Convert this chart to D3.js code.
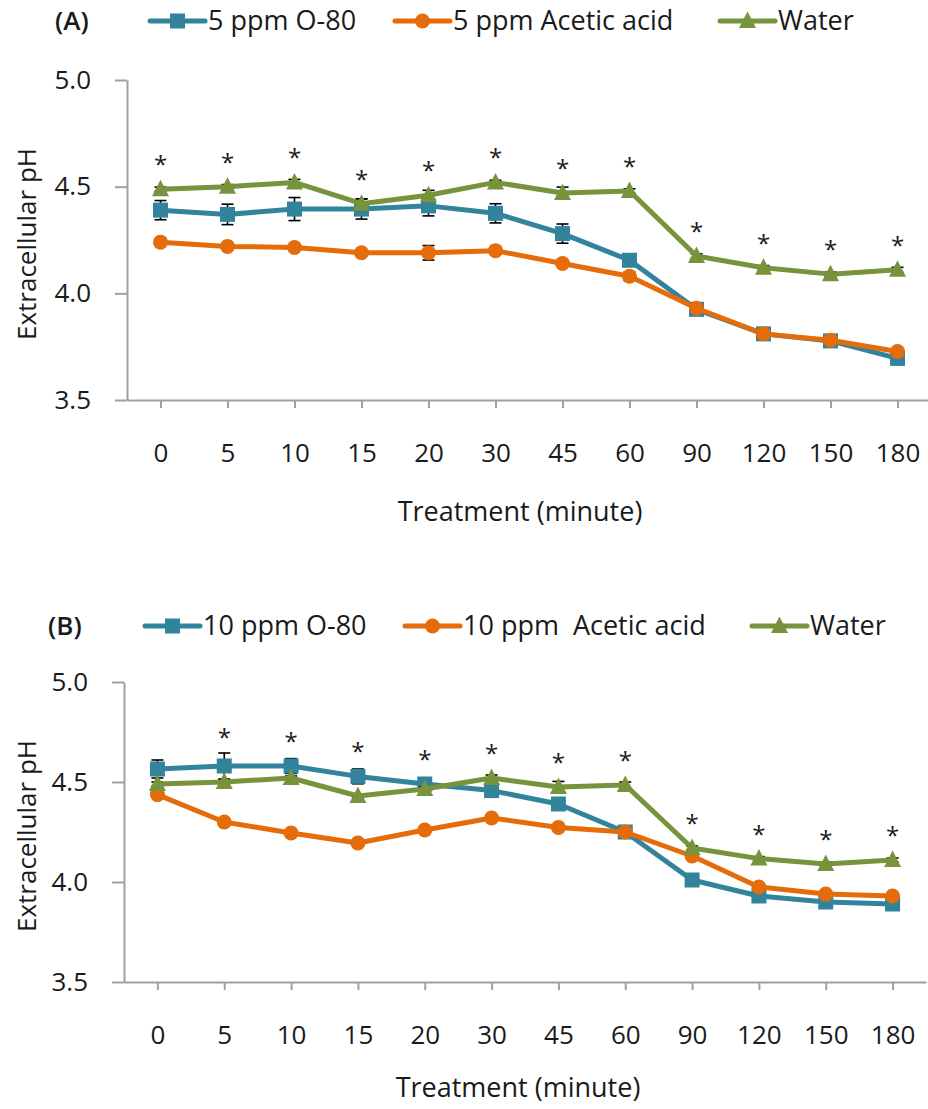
<!DOCTYPE html>
<html lang="en">
<head>
    <meta charset="UTF-8">
    <title>Extracellular pH</title>
    <script src="https://d3js.org/d3.v7.min.js"></script>
    <style>
        body, html {
            margin: 0;
            padding: 0;
            background: #fff;
        }
        svg text {
            font-family: "Open Sans", "Noto Sans", sans-serif;
            fill: #1a1a1a;
            white-space: pre;
        }
    </style>
</head>
<body>
    <script>
        // Categories (minutes)
        const categories = ["0", "5", "10", "15", "20", "30", "45", "60", "90", "120", "150", "180"];

        // Panel A values
        const o80A       = [4.39, 4.37, 4.395, 4.395, 4.41, 4.375, 4.28, 4.155, 3.925, 3.81, 3.777, 3.695];
        const o80AErr    = [0.045, 0.048, 0.054, 0.047, 0.047, 0.045, 0.045, 0.02, 0.01, 0.01, 0.01, 0.01];
        const aceticA    = [4.24, 4.22, 4.215, 4.19, 4.19, 4.2, 4.14, 4.08, 3.93, 3.81, 3.78, 3.727];
        const aceticAErr = [0.01, 0.01, 0.01, 0.01, 0.034, 0.01, 0.01, 0.02, 0.01, 0.01, 0.01, 0.01];
        const waterA     = [4.488, 4.5, 4.52, 4.42, 4.46, 4.52, 4.47, 4.48, 4.175, 4.12, 4.09, 4.11];
        const waterAErr  = [0.01, 0.01, 0.014, 0.023, 0.023, 0.01, 0.028, 0.01, 0.01, 0.01, 0.01, 0.012];
        const starsA     = [1, 1, 1, 1, 1, 1, 1, 1, 1, 1, 1, 1];

        // Panel B values
        const o80B       = [4.565, 4.58, 4.58, 4.528, 4.49, 4.457, 4.39, 4.25, 4.01, 3.93, 3.9, 3.89];
        const o80BErr    = [0.045, 0.065, 0.037, 0.037, 0.015, 0.01, 0.01, 0.01, 0.01, 0.01, 0.01, 0.01];
        const aceticB    = [4.437, 4.3, 4.245, 4.195, 4.26, 4.32, 4.273, 4.25, 4.13, 3.975, 3.94, 3.93];
        const aceticBErr = [0.01, 0.01, 0.01, 0.01, 0.01, 0.01, 0.01, 0.01, 0.01, 0.01, 0.01, 0.01];
        const waterB     = [4.49, 4.5, 4.52, 4.43, 4.465, 4.52, 4.475, 4.485, 4.17, 4.117, 4.09, 4.11];
        const waterBErr  = [0.01, 0.01, 0.01, 0.01, 0.01, 0.015, 0.028, 0.015, 0.01, 0.01, 0.01, 0.01];
        const starsB     = [0, 1, 1, 1, 1, 1, 1, 1, 1, 1, 1, 1];

        // Axis ticks
        const yTicks = [3.5, 4.0, 4.5, 5.0];

        const colors = { o80: "#31849b", acetic: "#e46c0a", water: "#77933c" };

        const width = 928, height = 1109;
        const svg = d3.select("body").append("svg")
            .attr("width", width)
            .attr("height", height);

        // marker shapes
        function drawMarker(g, shape, color) {
            if (shape === "square") {
                g.append("rect").attr("x", -7.5).attr("y", -7.5).attr("width", 15).attr("height", 15).attr("fill", color);
            } else if (shape === "circle") {
                g.append("circle").attr("r", 7.5).attr("fill", color);
            } else {
                g.append("path").attr("d", "M0,-9.5L8.5,7L-8.5,7Z").attr("fill", color);
            }
        }

        function drawPanel(p) {
            const x = d3.scalePoint().domain(categories).range([p.left, p.right]).padding(0.5);
            const y = d3.scaleLinear().domain([3.5, 5.0]).range([p.bottom, p.top]);
            const g = svg.append("g");

            // panel label
            g.append("text").attr("x", p.labelX).attr("y", p.legendY).attr("dy", "0.35em")
                .attr("font-size", 26).attr("font-weight", 600).text(p.label);

            // legend
            p.series.forEach((s, i) => {
                const lx = p.legendX[i];
                const lg = g.append("g").attr("transform", `translate(${lx},${p.legendY})`);
                lg.append("line").attr("x1", 0).attr("x2", 55).attr("stroke", s.color)
                    .attr("stroke-width", 5).attr("stroke-linecap", "round");
                const mg = lg.append("g").attr("transform", "translate(27.5,0)");
                drawMarker(mg, s.shape, s.color);
                lg.append("text").attr("x", 58).attr("dy", "0.35em").attr("font-size", 27).text(s.name);
            });

            // y axis
            const yAxis = g.append("g").attr("transform", `translate(${p.left},0)`)
                .call(d3.axisLeft(y).tickValues(yTicks).tickFormat(d3.format(".1f"))
                    .tickSize(12).tickSizeOuter(0).tickPadding(24));
            yAxis.select(".domain").attr("stroke", "#a0a0a0").attr("stroke-width", 2);
            yAxis.selectAll(".tick line").attr("stroke", "#a0a0a0").attr("stroke-width", 2);
            yAxis.selectAll(".tick text").attr("font-size", 26).attr("fill", "#1a1a1a")
                .attr("font-family", "Open Sans, sans-serif");

            // x axis
            const xAxis = g.append("g").attr("transform", `translate(0,${p.bottom})`)
                .call(d3.axisBottom(x).tickSize(8).tickSizeOuter(0).tickPadding(36));
            xAxis.select(".domain").attr("stroke", "#a0a0a0").attr("stroke-width", 2);
            xAxis.selectAll(".tick line").attr("stroke", "#a0a0a0").attr("stroke-width", 2);
            xAxis.selectAll(".tick text").attr("font-size", 26).attr("fill", "#1a1a1a")
                .attr("font-family", "Open Sans, sans-serif");

            // axis titles
            g.append("text").attr("x", p.xTitleX).attr("y", p.xTitleY).attr("dy", "0.35em")
                .attr("text-anchor", "middle").attr("font-size", 27).text("Treatment (minute)");
            g.append("text")
                .attr("transform", `translate(27,${(p.top + p.bottom) / 2 + 4}) rotate(-90)`)
                .attr("dy", "0.35em").attr("text-anchor", "middle").attr("font-size", 26)
                .text("Extracellular pH");

            // series
            p.series.forEach(s => {
                const pts = categories.map((c, i) => ({ c: c, v: s.values[i], e: s.errors[i] }));
                const eb = g.append("g").attr("stroke", "#000").attr("stroke-width", 1.6);
                pts.forEach(d => {
                    const cx = x(d.c);
                    eb.append("line").attr("x1", cx).attr("x2", cx).attr("y1", y(d.v - d.e)).attr("y2", y(d.v + d.e));
                    [d.v - d.e, d.v + d.e].forEach(v => {
                        eb.append("line").attr("x1", cx - 6).attr("x2", cx + 6).attr("y1", y(v)).attr("y2", y(v));
                    });
                });
                g.append("path").datum(pts)
                    .attr("fill", "none").attr("stroke", s.color).attr("stroke-width", 5)
                    .attr("stroke-linejoin", "round")
                    .attr("d", d3.line().x(d => x(d.c)).y(d => y(d.v)));
                pts.forEach(d => {
                    const mg = g.append("g").attr("transform", `translate(${x(d.c)},${y(d.v)})`);
                    drawMarker(mg, s.shape, s.color);
                });
            });

            // significance asterisks
            categories.forEach((c, i) => {
                if (!p.stars[i]) return;
                const topY = d3.min(p.series, s => Math.min(y(s.values[i] + s.errors[i]), y(s.values[i]) - 9));
                g.append("text").attr("x", x(c)).attr("y", topY - 19 + 12)
                    .attr("text-anchor", "middle").attr("font-size", 24).text("*");
            });
        }

        drawPanel({
            label: "(A)", labelX: 55, legendY: 21, legendX: [150, 395, 720],
            left: 127, right: 931, top: 80, bottom: 400, xTitleX: 520, xTitleY: 512,
            stars: starsA,
            series: [
                { name: "5 ppm O-80", values: o80A, errors: o80AErr, color: colors.o80, shape: "square" },
                { name: "5 ppm Acetic acid", values: aceticA, errors: aceticAErr, color: colors.acetic, shape: "circle" },
                { name: "Water", values: waterA, errors: waterAErr, color: colors.water, shape: "triangle" }
            ]
        });

        drawPanel({
            label: "(B)", labelX: 48, legendY: 626, legendX: [145, 405, 752],
            left: 124, right: 926, top: 682, bottom: 982, xTitleX: 518, xTitleY: 1088,
            stars: starsB,
            series: [
                { name: "10 ppm O-80", values: o80B, errors: o80BErr, color: colors.o80, shape: "square" },
                { name: "10 ppm  Acetic acid", values: aceticB, errors: aceticBErr, color: colors.acetic, shape: "circle" },
                { name: "Water", values: waterB, errors: waterBErr, color: colors.water, shape: "triangle" }
            ]
        });
    </script>
</body>
</html>
